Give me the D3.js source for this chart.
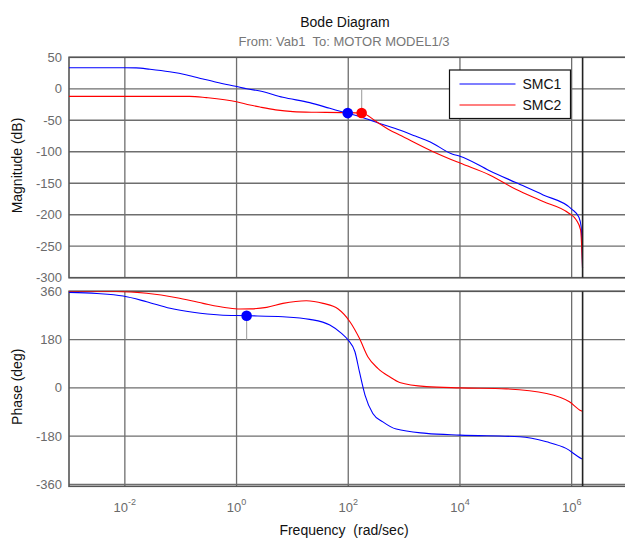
<!DOCTYPE html>
<html>
<head>
<meta charset="utf-8">
<script src="https://cdn.jsdelivr.net/npm/d3@7"></script>
<style>
  body { margin: 0; background: #fff; }
  text { font-family: "Liberation Sans", Arial, sans-serif; }
</style>
</head>
<body>
<svg id="chart"></svg>
<script>
// readings from the picture: [log10(rad/s), value]
const smc1Mag = [[-3, 33.5], [-2, 33.5], [-1.8, 33.2], [-1.55, 31], [-1.2, 27], [-0.89, 22], [-0.6, 15.5],
  [-0.36, 10.3], [0.06, 2.4], [0.18, 0], [0.42, -3.5], [0.83, -13.5], [1.31, -22], [1.67, -31], [1.97, -38.5],
  [2.2, -44], [2.56, -55], [2.92, -65.5], [3.2, -75], [3.46, -84], [3.87, -104], [4.0, -107], [4.53, -130],
  [5.0, -149], [5.49, -168.6], [6.0, -191], [6.13, -204], [6.17, -219], [6.195, -285]];
const smc2Mag = [[-3, -12], [-0.84, -12], [-0.54, -14.1], [0, -20.5], [0.24, -25.7], [0.42, -29], [0.7, -33.5],
  [1.01, -36.3], [1.43, -37.3], [1.9, -37.8], [2.24, -38.4], [2.5, -52], [2.74, -65.4], [2.92, -73.3],
  [3.52, -99.8], [4.0, -118], [4.53, -136.8], [5.0, -159.5], [5.49, -179], [5.95, -197.6], [6.08, -208],
  [6.16, -224], [6.195, -285]];
const smc1Phase = [[-3, 356], [-2.5, 352], [-2.03, 342.4], [-1.61, 321], [-1.19, 296.5], [-0.78, 281.6],
  [-0.3, 271.5], [0.18, 269], [0.83, 265], [1.31, 255.4], [1.67, 234], [1.88, 203], [2.0, 178], [2.12, 134.5],
  [2.2, 60], [2.3, -27], [2.44, -95.6], [2.62, -127], [2.86, -154], [3.4, -170], [4.0, -176.5], [5.07, -182.8],
  [5.55, -201.5], [5.9, -226], [6.17, -263.6], [6.195, -266]];
const smc2Phase = [[-3, 360.5], [-2.15, 359.5], [-1.61, 352.5], [-1.07, 336], [-0.6, 315], [-0.18, 298.8],
  [0.06, 294], [0.25, 294.5], [0.54, 300], [0.83, 315], [1.25, 325], [1.55, 315], [1.82, 294], [2.03, 246.5],
  [2.2, 184.5], [2.35, 116], [2.53, 72.5], [2.74, 41], [2.92, 20], [3.4, 4.5], [4.0, -0.3], [4.83, -4],
  [5.55, -21], [5.96, -52], [6.17, -86], [6.195, -88]];

// stability margin markers
const gainMarks = [{ lf: 1.99, v: -38.6, color: "#0000ff" }, { lf: 2.24, v: -38.4, color: "#ff0000" }];
const phaseMarks = [{ lf: 0.18, v: 269, color: "#0000ff" }];

const magTicks = [50, 0, -50, -100, -150, -200, -250, -300];
const phaseTicks = [360, 180, 0, -180, -360];
const freqTicks = [-2, 0, 2, 4, 6];
const nyquist = Math.PI / 2e-6;

const series = [
  { name: "SMC1", color: "#0000ff", mag: smc1Mag, phase: smc1Phase },
  { name: "SMC2", color: "#ff0000", mag: smc2Mag, phase: smc2Phase }
];

const width = 625, height = 539;
const svg = d3.select("#chart").attr("width", width).attr("height", height);

const x = d3.scaleLog().domain([1e-3, 1e7]).range([69, 627.5]);
const yMag = d3.scaleLinear().domain([-300, 50]).range([277.7, 57.3]);
const yPh = d3.scaleLinear().domain([-367.5, 360]).range([486.3, 291.3]);

const panels = [
  { y: yMag, ticks: magTicks, key: "mag", label: "Magnitude (dB)", marks: gainMarks, ref: 0 },
  { y: yPh, ticks: phaseTicks, key: "phase", label: "Phase (deg)", marks: phaseMarks, ref: 180 }
];

panels.forEach((p, i) => {
  const [y0, y1] = p.y.range();
  const g = svg.append("g");
  const clipId = "clip" + i;
  svg.append("clipPath").attr("id", clipId)
    .append("rect").attr("x", x.range()[0]).attr("y", y1)
    .attr("width", x.range()[1] - x.range()[0]).attr("height", y0 - y1);

  // grid
  g.append("g").selectAll("line").data(p.ticks).join("line")
    .attr("x1", x.range()[0]).attr("x2", x.range()[1])
    .attr("y1", d => p.y(d)).attr("y2", d => p.y(d))
    .attr("stroke", "#6e6e6e").attr("stroke-width", 1.3);
  g.append("g").selectAll("line").data(freqTicks).join("line")
    .attr("x1", d => x(10 ** d)).attr("x2", d => x(10 ** d))
    .attr("y1", y1).attr("y2", y0)
    .attr("stroke", "#6e6e6e").attr("stroke-width", 1.3);

  // border
  g.append("rect").attr("x", x.range()[0]).attr("y", y1)
    .attr("width", x.range()[1] - x.range()[0]).attr("height", y0 - y1)
    .attr("fill", "none").attr("stroke", "#555").attr("stroke-width", 1.6);

  // tick labels
  g.append("g").selectAll("text").data(p.ticks).join("text")
    .attr("x", 62).attr("y", d => p.y(d) + 4.5)
    .attr("text-anchor", "end").attr("font-size", 13).attr("fill", "#6a6a6a")
    .text(d => d);

  // axis label
  g.append("text")
    .attr("transform", `translate(22,${(y0 + y1) / 2 - 2}) rotate(-90)`)
    .attr("text-anchor", "middle").attr("font-size", 14).attr("fill", "#111")
    .text(p.label);

  const plot = g.append("g").attr("clip-path", `url(#${clipId})`);

  // margin stems
  plot.selectAll("line.stem").data(p.marks).join("line")
    .attr("class", "stem")
    .attr("x1", d => x(10 ** d.lf)).attr("x2", d => x(10 ** d.lf))
    .attr("y1", p.y(p.ref)).attr("y2", d => p.y(d.v))
    .attr("stroke", "#aaa").attr("stroke-width", 1.2);

  const line = d3.line()
    .x(d => x(10 ** d[0])).y(d => p.y(d[1]))
    .curve(d3.curveMonotoneX);

  plot.selectAll("path.curve").data(series).join("path")
    .attr("class", "curve")
    .attr("d", s => line(s[p.key]))
    .attr("fill", "none").attr("stroke", s => s.color).attr("stroke-width", 1.1);

  // nyquist frequency
  plot.append("line")
    .attr("x1", x(nyquist)).attr("x2", x(nyquist))
    .attr("y1", y1).attr("y2", y0)
    .attr("stroke", "#222").attr("stroke-width", 1.6);

  plot.selectAll("circle").data(p.marks).join("circle")
    .attr("cx", d => x(10 ** d.lf)).attr("cy", d => p.y(d.v))
    .attr("r", 5.3).attr("fill", d => d.color);
});

// frequency tick labels
const xt = svg.append("g").selectAll("text").data(freqTicks).join("text")
  .attr("x", d => x(10 ** d)).attr("y", 511.5)
  .attr("text-anchor", "middle").attr("font-size", 13).attr("fill", "#6a6a6a");
xt.append("tspan").text("10");
xt.append("tspan").attr("dy", -7).attr("font-size", 9).text(d => d);

svg.append("text").attr("x", 344).attr("y", 535)
  .attr("text-anchor", "middle").attr("font-size", 14).attr("fill", "#111")
  .attr("xml:space", "preserve")
  .text("Frequency  (rad/sec)");

// titles
svg.append("text").attr("x", 345).attr("y", 27)
  .attr("text-anchor", "middle").attr("font-size", 14).attr("fill", "#111")
  .text("Bode Diagram");
svg.append("text").attr("x", 344).attr("y", 45.5)
  .attr("text-anchor", "middle").attr("font-size", 13).attr("fill", "#777")
  .attr("xml:space", "preserve")
  .text("From: Vab1  To: MOTOR MODEL1/3");

// legend
const legend = svg.append("g").attr("transform", "translate(449.5,70)");
legend.append("rect").attr("width", 121).attr("height", 48.5)
  .attr("fill", "#fff").attr("stroke", "#111").attr("stroke-width", 1.2);
const item = legend.selectAll("g").data(series).join("g")
  .attr("transform", (d, i) => `translate(0,${14 + i * 21})`);
item.append("line").attr("x1", 10).attr("x2", 66)
  .attr("stroke", d => d.color).attr("stroke-width", 1.1);
item.append("text").attr("x", 73).attr("y", 5).attr("font-size", 14).attr("fill", "#111")
  .text(d => d.name);
</script>
</body>
</html>
